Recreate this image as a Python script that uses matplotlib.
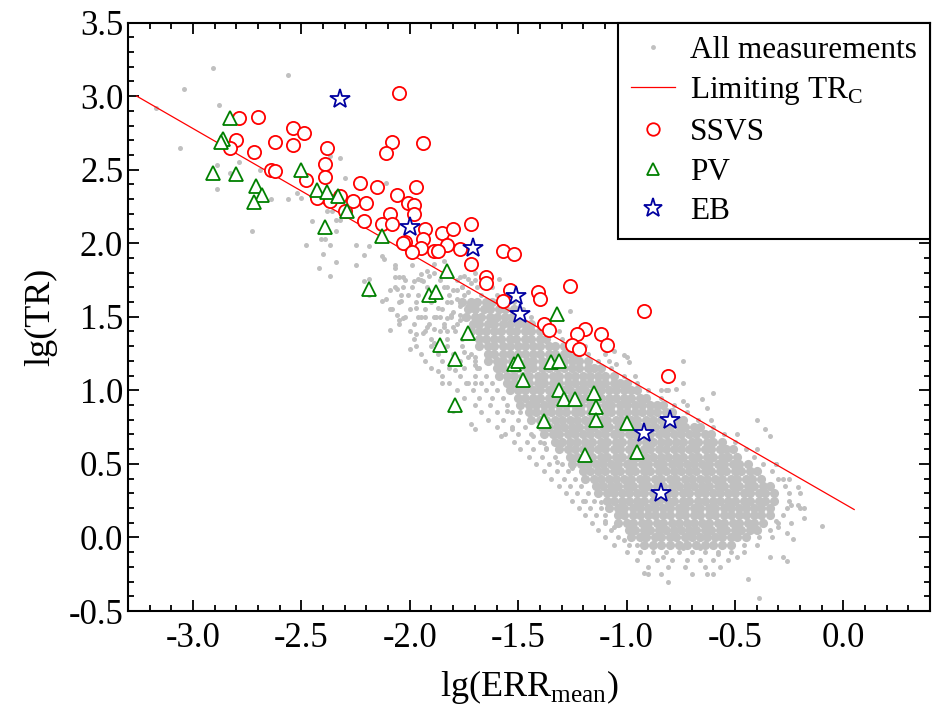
import numpy as np
import matplotlib
matplotlib.use("Agg")
import matplotlib.pyplot as plt
from matplotlib.lines import Line2D

plt.rcParams['font.family'] = 'Liberation Serif'
plt.rcParams['mathtext.fontset'] = 'custom'
plt.rcParams['mathtext.rm'] = 'Liberation Serif'
plt.rcParams['axes.unicode_minus'] = False

# scattered gray dots (lg ERR, lg TR)
gray_pts = [
    (-3.17, 2.92), (-3.04, 3.05), (-2.91, 3.19), (-2.56, 3.14), (-2.88, 2.94), (-3.06, 2.65),
    (-2.89, 2.53), (-2.79, 2.55), (-2.83, 2.48), (-2.89, 2.37), (-2.69, 2.50), (-2.73, 2.08),
    (-2.64, 2.30), (-2.56, 2.30), (-2.52, 2.34), (-2.50, 2.31), (-2.45, 2.15), (-2.48, 1.99),
    (-2.41, 2.03), (-2.39, 2.03), (-2.37, 1.99), (-2.42, 1.83), (-2.37, 1.78), (-2.40, 1.93),
    (-2.34, 1.87), (-2.30, 2.44), (-2.32, 2.58), (-2.37, 2.59), (-2.38, 2.22), (-2.36, 2.22),
    (-2.34, 2.16), (-2.32, 2.16), (-2.34, 2.08), (-2.25, 1.85), (-2.25, 1.99), (-2.19, 1.98),
    (-2.21, 1.92), (-2.19, 1.76), (-2.21, 1.74), (-2.16, 2.41), (-2.11, 2.41), (-2.13, 1.91),
    (-2.12, 1.89), (-2.07, 1.85), (-2.07, 1.83), (-2.07, 1.77), (-2.05, 1.77), (-2.03, 1.77),
    (-2.07, 1.70), (-2.06, 1.69), (-2.03, 1.70), (-2.09, 1.68), (-1.99, 1.85), (-1.96, 1.76),
    (-2.19, 1.65), (-2.13, 1.61), (-2.11, 1.62), (-2.09, 1.55), (-2.04, 1.61), (-2.01, 1.65),
    (-2.06, 1.51), (-2.05, 1.48), (-2.03, 1.49), (-2.09, 1.41), (-1.98, 1.74), (-1.95, 1.79),
    (-1.94, 1.74), (-1.92, 1.81), (-1.91, 1.78), (-1.89, 1.80), (-1.97, 1.56), (-1.96, 1.50),
    (-1.93, 1.50), (-1.87, 1.56), (-1.89, 1.50), (-1.86, 1.50), (-1.83, 1.49), (-1.81, 1.51),
    (-1.92, 1.43), (-1.89, 1.42), (-1.84, 1.43), (-1.83, 1.40), (-1.80, 1.43), (-1.77, 1.48),
    (-1.75, 1.49), (-1.97, 1.38), (-1.94, 1.39), (-2.00, 1.28), (-1.89, 1.32), (-1.87, 1.13),
    (-1.85, 1.05), (-1.79, 1.14), (-1.75, 1.26), (-1.73, 1.23), (-1.70, 1.23), (-1.70, 1.17),
    (-1.69, 1.15), (-1.73, 1.05), (-1.70, 1.05), (-1.72, 0.77), (-1.70, 0.74), (-1.80, 0.86),
    (-1.83, 1.70), (-1.80, 1.68), (-1.78, 1.68), (-1.76, 1.70), (-1.73, 1.67), (-1.78, 1.62),
    (-1.76, 1.60), (-1.81, 1.60), (-1.73, 1.58), (-1.71, 1.61), (-1.77, 1.57), (-1.80, 1.53),
    (-1.77, 1.51), (-1.70, 1.53), (-1.69, 1.49), (-1.77, 1.77), (-1.75, 1.78), (-1.73, 1.76),
    (-1.70, 1.80), (-1.72, 1.73), (-1.89, 1.86), (-1.84, 1.88), (-1.59, 1.76), (-1.26, 1.54),
    (-1.00, 1.23), (-1.06, 1.27), (-1.01, 1.24), (-0.99, 1.19), (-1.05, 1.18), (-0.74, 1.20),
    (-0.74, 1.05), (-0.82, 1.00), (-0.81, 1.00), (-0.77, 1.01), (-0.60, 0.98), (-1.10, 1.25),
    (-0.74, 0.93), (-0.65, 0.94), (-0.63, 0.88), (-0.34, 0.69), (-0.31, 0.50), (-0.28, 0.40),
    (-0.21, 0.34), (-0.24, 0.22), (-0.21, 0.22), (-0.18, 0.20), (-0.18, 0.13), (-0.10, 0.08),
    (-0.31, 0.11), (-0.30, 0.07), (-0.26, 0.03), (-0.23, -0.01), (-0.34, -0.13), (-0.28, -0.13),
    (-0.26, -0.16), (-0.44, -0.28), (-0.39, -0.41), (-0.63, -0.25), (-0.49, -0.13), (-0.58, -0.11),
    (-0.66, -0.07), (-0.74, -0.07), (-0.83, -0.13), (-0.92, -0.24), (-0.90, -0.25), (-0.81, -0.30),
    (-1.01, -0.02), (-0.95, -0.05), (-1.10, 0.11), (-1.06, 0.07), (-1.20, 0.25), (-1.12, 0.24),
    (-1.25, 0.47), (-1.32, 0.51), (-1.38, 0.64), (-1.37, 0.61), (-1.43, 0.69), (-1.53, 0.74),
    (-1.58, 0.69), (-1.49, 0.85), (-1.55, 0.86), (-0.40, 0.80), (-0.36, 0.74),
]

# the dense body of the cloud, row by row (lg TR -> lg ERR values)
core_rows = {
    1.60: [-1.76, -1.72, -1.69, -1.65, -1.62, -1.58],
    1.55: [-1.73, -1.70, -1.66, -1.63, -1.59, -1.56, -1.52],
    1.50: [-1.74, -1.70, -1.67, -1.63, -1.60, -1.56, -1.53, -1.49],
    1.45: [-1.71, -1.68, -1.64, -1.61, -1.57, -1.54, -1.50, -1.47, -1.44],
    1.40: [-1.72, -1.68, -1.65, -1.61, -1.58, -1.54, -1.51, -1.47, -1.44, -1.40],
    1.35: [-1.68, -1.65, -1.61, -1.58, -1.54, -1.51, -1.47, -1.44, -1.40, -1.37],
    1.30: [-1.68, -1.64, -1.61, -1.57, -1.54, -1.50, -1.47, -1.43, -1.40, -1.36, -1.33, -1.29],
    1.25: [-1.64, -1.61, -1.57, -1.54, -1.50, -1.47, -1.43, -1.40, -1.36, -1.33, -1.29, -1.26,
           -1.23],
    1.20: [-1.64, -1.60, -1.57, -1.53, -1.50, -1.46, -1.43, -1.39, -1.36, -1.32, -1.29, -1.25,
           -1.22, -1.18],
    1.15: [-1.60, -1.57, -1.53, -1.50, -1.46, -1.43, -1.39, -1.36, -1.32, -1.29, -1.25, -1.22,
           -1.18, -1.15, -1.12],
    1.10: [-1.59, -1.55, -1.52, -1.48, -1.45, -1.41, -1.38, -1.34, -1.31, -1.27, -1.24, -1.20,
           -1.17, -1.13, -1.10, -1.06],
    1.05: [-1.55, -1.52, -1.48, -1.45, -1.41, -1.38, -1.34, -1.31, -1.27, -1.24, -1.20, -1.17,
           -1.13, -1.10, -1.06, -1.03, -1.00],
    1.00: [-1.54, -1.50, -1.47, -1.43, -1.40, -1.36, -1.33, -1.29, -1.26, -1.22, -1.19, -1.15,
           -1.12, -1.08, -1.05, -1.01, -0.98, -0.95],
    0.95: [-1.50, -1.47, -1.43, -1.40, -1.36, -1.33, -1.29, -1.26, -1.22, -1.19, -1.15, -1.12,
           -1.08, -1.05, -1.01, -0.98, -0.94, -0.91],
    0.90: [-1.49, -1.45, -1.42, -1.38, -1.35, -1.31, -1.28, -1.24, -1.21, -1.17, -1.14, -1.10,
           -1.07, -1.03, -1.00, -0.96, -0.93, -0.89, -0.86, -0.83],
    0.85: [-1.45, -1.42, -1.38, -1.35, -1.31, -1.28, -1.24, -1.21, -1.17, -1.14, -1.10, -1.07,
           -1.03, -1.00, -0.96, -0.93, -0.89, -0.86, -0.82, -0.79],
    0.80: [-1.44, -1.40, -1.37, -1.33, -1.30, -1.26, -1.23, -1.19, -1.16, -1.12, -1.09, -1.05,
           -1.02, -0.98, -0.95, -0.91, -0.88, -0.84, -0.81, -0.77, -0.74],
    0.75: [-1.39, -1.36, -1.32, -1.29, -1.25, -1.22, -1.18, -1.15, -1.11, -1.08, -1.04, -1.01,
           -0.97, -0.94, -0.90, -0.87, -0.83, -0.80, -0.76, -0.73, -0.69, -0.66],
    0.70: [-1.38, -1.34, -1.31, -1.27, -1.24, -1.20, -1.17, -1.13, -1.10, -1.06, -1.03, -0.99,
           -0.96, -0.92, -0.89, -0.85, -0.82, -0.78, -0.75, -0.71, -0.68, -0.64, -0.61],
    0.65: [-1.33, -1.30, -1.26, -1.23, -1.19, -1.16, -1.12, -1.09, -1.05, -1.02, -0.98, -0.95,
           -0.91, -0.88, -0.84, -0.81, -0.77, -0.74, -0.70, -0.67, -0.63, -0.60, -0.56],
    0.60: [-1.31, -1.27, -1.24, -1.20, -1.17, -1.13, -1.10, -1.06, -1.03, -0.99, -0.96, -0.92,
           -0.89, -0.85, -0.82, -0.78, -0.75, -0.71, -0.68, -0.64, -0.61, -0.57, -0.54, -0.51],
    0.55: [-1.26, -1.23, -1.19, -1.16, -1.12, -1.09, -1.05, -1.02, -0.98, -0.95, -0.91, -0.88,
           -0.84, -0.81, -0.77, -0.74, -0.70, -0.67, -0.63, -0.60, -0.56, -0.53, -0.49],
    0.50: [-1.25, -1.21, -1.18, -1.14, -1.11, -1.07, -1.04, -1.00, -0.97, -0.93, -0.90, -0.86,
           -0.83, -0.79, -0.76, -0.72, -0.69, -0.65, -0.62, -0.58, -0.55, -0.51, -0.48, -0.44],
    0.45: [-1.20, -1.17, -1.13, -1.10, -1.06, -1.03, -0.99, -0.96, -0.92, -0.89, -0.85, -0.82,
           -0.78, -0.75, -0.71, -0.68, -0.64, -0.61, -0.57, -0.54, -0.50, -0.47, -0.43, -0.40],
    0.40: [-1.19, -1.15, -1.12, -1.08, -1.05, -1.01, -0.98, -0.94, -0.91, -0.87, -0.84, -0.80,
           -0.77, -0.73, -0.70, -0.66, -0.63, -0.59, -0.56, -0.52, -0.49, -0.45, -0.42, -0.38],
    0.35: [-1.14, -1.11, -1.07, -1.04, -1.00, -0.97, -0.93, -0.90, -0.86, -0.83, -0.79, -0.76,
           -0.72, -0.69, -0.65, -0.62, -0.58, -0.55, -0.51, -0.48, -0.44, -0.41, -0.37, -0.34],
    0.30: [-1.13, -1.09, -1.06, -1.02, -0.99, -0.95, -0.92, -0.88, -0.85, -0.81, -0.78, -0.74,
           -0.71, -0.67, -0.64, -0.60, -0.57, -0.53, -0.50, -0.46, -0.43, -0.39, -0.36, -0.32],
    0.25: [-1.09, -1.06, -1.02, -0.99, -0.95, -0.92, -0.88, -0.85, -0.81, -0.78, -0.74, -0.71,
           -0.67, -0.64, -0.60, -0.57, -0.53, -0.50, -0.46, -0.43, -0.39, -0.36, -0.32],
    0.20: [-1.08, -1.04, -1.01, -0.97, -0.94, -0.90, -0.87, -0.83, -0.80, -0.76, -0.73, -0.69,
           -0.66, -0.62, -0.59, -0.55, -0.52, -0.48, -0.45, -0.41, -0.38, -0.34],
    0.15: [-1.04, -1.01, -0.97, -0.94, -0.90, -0.87, -0.83, -0.80, -0.76, -0.73, -0.69, -0.66,
           -0.62, -0.59, -0.55, -0.52, -0.48, -0.45, -0.41, -0.38, -0.34],
    0.10: [-1.04, -1.00, -0.97, -0.93, -0.90, -0.86, -0.83, -0.79, -0.76, -0.72, -0.69, -0.65,
           -0.62, -0.58, -0.55, -0.51, -0.48, -0.44, -0.41, -0.37],
    0.05: [-0.99, -0.96, -0.92, -0.89, -0.85, -0.82, -0.78, -0.75, -0.71, -0.68, -0.64, -0.61,
           -0.57, -0.54, -0.50, -0.47, -0.43, -0.40],
    0.00: [-0.98, -0.94, -0.91, -0.87, -0.84, -0.80, -0.77, -0.73, -0.70, -0.66, -0.63, -0.59,
           -0.56, -0.52, -0.49, -0.45],
    -0.05: [-0.92, -0.88, -0.84, -0.80, -0.76, -0.72, -0.68, -0.64, -0.60, -0.56, -0.52],
}

# thinner fringe around the body
fringe_rows = {
    1.75: [-2.02, -1.95, -1.86, -1.78, -1.70, -1.64],
    1.70: [-1.99, -1.92, -1.84, -1.76, -1.69, -1.62],
    1.65: [-2.04, -1.96, -1.89, -1.82, -1.75, -1.67, -1.60, -1.54],
    1.60: [-2.05, -1.97, -1.90, -1.83, -1.52],
    1.55: [-2.08, -2.00, -1.93, -1.85, -1.48],
    1.50: [-2.02, -1.95, -1.88, -1.81, -1.44],
    1.45: [-2.05, -1.98, -1.91, -1.84, -1.78, -1.40],
    1.40: [-2.00, -1.93, -1.86, -1.79, -1.36, -1.31],
    1.35: [-1.98, -1.90, -1.83, -1.76, -1.30],
    1.30: [-1.97, -1.90, -1.83, -1.76, -1.24, -1.19],
    1.25: [-1.95, -1.87, -1.80, -1.72, -1.18],
    1.20: [-1.93, -1.85, -1.77, -1.70, -1.13, -1.08],
    1.15: [-1.90, -1.82, -1.75, -1.68, -1.07],
    1.10: [-1.85, -1.77, -1.70, -1.65, -1.01, -0.96],
    1.05: [-1.82, -1.74, -1.67, -1.62, -0.95],
    1.00: [-1.78, -1.71, -1.65, -1.60, -0.90, -0.84],
    0.95: [-1.75, -1.68, -1.62, -1.57, -0.84],
    0.90: [-1.70, -1.63, -1.55, -0.78, -0.72],
    0.85: [-1.67, -1.60, -1.53, -0.72],
    0.80: [-1.64, -1.57, -1.50, -0.67, -0.61],
    0.75: [-1.60, -1.53, -1.47, -0.60],
    0.70: [-1.56, -1.50, -1.44, -0.55, -0.49],
    0.65: [-1.52, -1.46, -1.40, -0.50],
    0.60: [-1.49, -1.43, -1.37, -0.45, -0.40],
    0.55: [-1.45, -1.39, -1.33, -0.41],
    0.50: [-1.42, -1.36, -1.30, -0.37, -0.31],
    0.45: [-1.38, -1.32, -1.27, -0.33],
    0.40: [-1.35, -1.29, -1.24, -0.30, -0.25],
    0.35: [-1.31, -1.26, -1.21, -0.27],
    0.30: [-1.28, -1.23, -1.18, -0.25, -0.20],
    0.25: [-1.25, -1.19, -1.15, -0.25],
    0.20: [-1.22, -1.17, -1.12, -0.26, -0.20],
    0.15: [-1.19, -1.14, -1.10, -0.28],
    0.10: [-1.16, -1.10, -0.30, -0.24],
    0.05: [-1.13, -1.07, -0.34],
    0.00: [-1.10, -1.04, -0.39, -0.33],
    -0.05: [-1.06, -0.99, -0.46, -0.40],
    -0.10: [-1.00, -0.94, -0.88, -0.82, -0.76, -0.70, -0.64, -0.58, -0.52, -0.46],
    -0.15: [-0.95, -0.86, -0.79, -0.72, -0.66, -0.60, -0.53],
    -0.20: [-0.90, -0.81, -0.73, -0.64, -0.57],
    -0.25: [-0.84, -0.70, -0.60],
}

# limiting TR_C line
line_x = [-3.26, 0.05]
line_y = [3.00, 0.19]

ssvs_x = [-2.79, -2.70, -2.80, -2.83, -2.54, -2.49, -2.62, -2.54, -2.72, -2.38, -2.39, -2.64,
          -2.62, -2.39, -2.48, -2.43, -2.37, -2.32, -2.30, -2.05, -2.08, -1.94, -2.11, -2.23,
          -2.15, -1.97, -2.26, -2.20, -2.06, -2.01, -1.98, -2.09, -1.98, -2.21, -2.13, -2.08,
          -1.93, -1.85, -1.80, -1.72, -1.94, -2.02, -2.03, -1.83, -1.95, -1.89, -1.87, -1.77,
          -1.57, -1.52, -1.99, -1.72, -1.65, -1.65, -1.26, -1.41, -1.40, -1.54, -1.57, -1.38,
          -1.36, -0.92, -1.19, -1.23, -1.25, -1.22, -1.12, -1.09, -0.81]
ssvs_y = [2.85, 2.86, 2.70, 2.65, 2.78, 2.75, 2.69, 2.67, 2.62, 2.65, 2.54, 2.50,
          2.49, 2.45, 2.43, 2.31, 2.29, 2.32, 2.22, 3.02, 2.69, 2.68, 2.61, 2.41,
          2.38, 2.38, 2.29, 2.27, 2.33, 2.27, 2.26, 2.20, 2.20, 2.15, 2.13, 2.13,
          2.10, 2.07, 2.10, 2.13, 2.03, 2.01, 2.00, 1.99, 1.97, 1.95, 1.95, 1.96,
          1.95, 1.93, 1.94, 1.86, 1.77, 1.73, 1.71, 1.67, 1.62, 1.68, 1.61, 1.45,
          1.41, 1.54, 1.42, 1.38, 1.31, 1.28, 1.38, 1.31, 1.10]

pv_x = [-2.83, -2.86, -2.87, -2.91, -2.80, -2.50, -2.71, -2.68, -2.72, -2.43, -2.38, -2.33,
        -2.29, -2.39, -2.13, -1.83, -2.19, -1.91, -1.88, -1.73, -1.86, -1.79, -1.79, -1.32,
        -1.52, -1.50, -1.35, -1.31, -1.48, -1.31, -1.29, -1.24, -1.15, -1.14, -1.14, -1.38,
        -1.00, -1.19, -0.95]
pv_y = [2.85, 2.71, 2.69, 2.48, 2.47, 2.50, 2.39, 2.33, 2.28, 2.36, 2.35, 2.32,
        2.22, 2.11, 2.05, 1.81, 1.69, 1.65, 1.67, 1.39, 1.31, 1.21, 0.90, 1.52,
        1.18, 1.20, 1.19, 1.20, 1.07, 1.00, 0.94, 0.94, 0.98, 0.89, 0.80, 0.79,
        0.78, 0.56, 0.58]

eb_x = [-2.32, -2.00, -1.71, -1.51, -1.49, -0.80, -0.92, -0.84]
eb_y = [2.98, 2.11, 1.97, 1.64, 1.52, 0.80, 0.71, 0.30]

gray = '#c0c0c0'

fig = plt.figure(figsize=(9.42, 7.13), dpi=100)
ax = fig.add_axes([0.1359, 0.1430, 0.8514, 0.8254])

gx = [p[0] for p in gray_pts]
gy = [p[1] for p in gray_pts]
cx, cy = [], []
for yv, xs in core_rows.items():
    cx += xs
    cy += [yv] * len(xs)
fx, fy = [], []
for yv, xs in fringe_rows.items():
    fx += xs
    fy += [yv] * len(xs)

ax.plot(cx, cy, 'o', color=gray, ms=6.6, mew=0, zorder=1)
ax.plot(fx + gx, fy + gy, 'o', color=gray, ms=3.6, mew=0, zorder=1)
ax.plot(line_x, line_y, '-', color='red', lw=0.9, zorder=2)
ax.plot(ssvs_x, ssvs_y, 'o', mfc='white', mec='red', ms=9.5, mew=1.3, zorder=3)
ax.plot(pv_x, pv_y, '^', mfc='white', mec='green', ms=10, mew=1.3, zorder=4)
ax.plot(eb_x, eb_y, '*', mfc='white', mec='#0000a0', ms=15, mew=1.3, zorder=5)

ax.set_xlim(-3.3, 0.4)
ax.set_ylim(-0.5, 3.5)
ax.set_xticks([-3.0, -2.5, -2.0, -1.5, -1.0, -0.5, 0.0])
ax.set_xticks(np.arange(-3.3, 0.41, 0.1), minor=True)
ax.set_yticks([-0.5, 0.0, 0.5, 1.0, 1.5, 2.0, 2.5, 3.0, 3.5])
ax.set_yticks(np.arange(-0.5, 3.51, 0.1), minor=True)
ax.set_xticklabels(['-3.0', '-2.5', '-2.0', '-1.5', '-1.0', '-0.5', '0.0'])
ax.set_yticklabels(['-0.5', '0.0', '0.5', '1.0', '1.5', '2.0', '2.5', '3.0', '3.5'])
ax.tick_params(which='both', direction='in', top=True, right=True, labelsize=25, width=1.3)
ax.tick_params(which='major', length=8)
ax.tick_params(which='minor', length=4.5)
ax.tick_params(axis='x', pad=8)
for s in ax.spines.values():
    s.set_linewidth(1.5)

ax.set_xlabel('lg(ERR$_{\\mathregular{mean}}$)', fontsize=26, labelpad=9)
ax.set_ylabel('lg(TR)', fontsize=26, labelpad=8)

handles = [
    Line2D([], [], ls='none', marker='o', color=gray, ms=3.5, mew=0),
    Line2D([], [], color='red', lw=0.9),
    Line2D([], [], ls='none', marker='o', mfc='white', mec='red', ms=9, mew=1.3),
    Line2D([], [], ls='none', marker='^', mfc='white', mec='green', ms=9, mew=1.3),
    Line2D([], [], ls='none', marker='*', mfc='white', mec='#0000a0', ms=14, mew=1.3),
]
labels = ['All measurements', 'Limiting TR$_\\mathregular{C}$', 'SSVS', 'PV', 'EB']
leg = ax.legend(handles, labels, loc='upper right', borderaxespad=0, fontsize=22.5,
                fancybox=False, edgecolor='black', framealpha=1, handlelength=1.4,
                handletextpad=0.48, labelspacing=0.34, borderpad=0.42)
leg.get_frame().set_linewidth(1.5)

fig.savefig('out.png', dpi=100)
